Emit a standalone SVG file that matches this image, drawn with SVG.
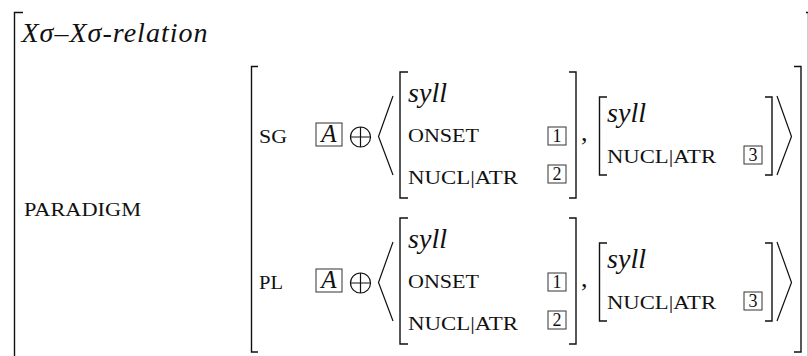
<svg xmlns="http://www.w3.org/2000/svg" width="808" height="356" viewBox="0 0 808 356">
<defs>
<style>
.br{fill:none;stroke:#111;stroke-width:1.4}
.ang{fill:none;stroke:#111;stroke-width:1.2}
.bx{fill:none;stroke:#333;stroke-width:1}
.it{font-family:"Liberation Serif","DejaVu Serif",serif;font-style:italic;fill:#111}
.sc{font-family:"Liberation Serif","DejaVu Serif",serif;font-size:18px;fill:#111}
.cm{font-family:"Liberation Serif","DejaVu Serif",serif;font-size:26px;fill:#111}
.num{font-family:"Liberation Serif","DejaVu Serif",serif;font-size:18px;fill:#111;text-anchor:middle}
</style>
<g id="row">
<path class="br" d="M408,0 H400 V126 H408"/>
<path class="br" d="M569,0 H576 V126 H569"/>
<text class="it" x="408" y="30" font-size="28" textLength="39">syll</text>
<text class="sc" x="408" y="70" textLength="71" lengthAdjust="spacingAndGlyphs">ONSET</text>
<text class="sc" x="408" y="112" textLength="110" lengthAdjust="spacingAndGlyphs">NUCL|ATR</text>
<rect class="bx" x="548" y="55" width="18" height="18"/>
<text class="num" x="557" y="70">1</text>
<rect class="bx" x="548" y="93" width="18" height="18"/>
<text class="num" x="557" y="108">2</text>
<text class="cm" x="581" y="69">,</text>
<path class="br" d="M607,25 H599.5 V103 H607"/>
<path class="br" d="M765,25 H772 V103 H765"/>
<text class="it" x="607" y="50" font-size="28" textLength="39">syll</text>
<text class="sc" x="607" y="91" textLength="109" lengthAdjust="spacingAndGlyphs">NUCL|ATR</text>
<rect class="bx" x="744" y="74" width="18" height="18"/>
<text class="num" x="753" y="89">3</text>
<path class="ang" d="M393,24 L378.5,64.5 L393,103"/>
<path class="ang" d="M777,24 L791.5,64.5 L777,103"/>
<rect class="bx" x="316" y="51" width="26" height="23"/>
<text class="it" x="329" y="70" font-size="25" text-anchor="middle">A</text>
<circle class="ang" cx="360.5" cy="65" r="10"/>
<path class="ang" d="M350.5,65 H370.5 M360.5,55 V75"/>
</g>
</defs>
<g id="outer">
<path class="br" d="M23,12.5 H14.5 V360"/>
<path class="br" d="M806,12.5 H808.5 V360"/>
<text class="it" x="21.5" y="42" font-size="28" textLength="186">Xσ–Xσ-relation</text>
</g>
<g id="paradigm">
<text class="sc" x="24" y="216" textLength="117" lengthAdjust="spacingAndGlyphs">PARADIGM</text>
<path class="br" d="M258,66.5 H251.5 V352 H258"/>
<path class="br" d="M794,66.5 H801 V352 H794"/>
</g>
<g id="sg">
<text class="sc" x="259" y="143" textLength="28" lengthAdjust="spacingAndGlyphs">SG</text>
<use href="#row" x="0" y="72"/>
</g>
<g id="pl">
<text class="sc" x="259" y="289" textLength="24" lengthAdjust="spacingAndGlyphs">PL</text>
<use href="#row" x="0" y="218"/>
</g>
</svg>
